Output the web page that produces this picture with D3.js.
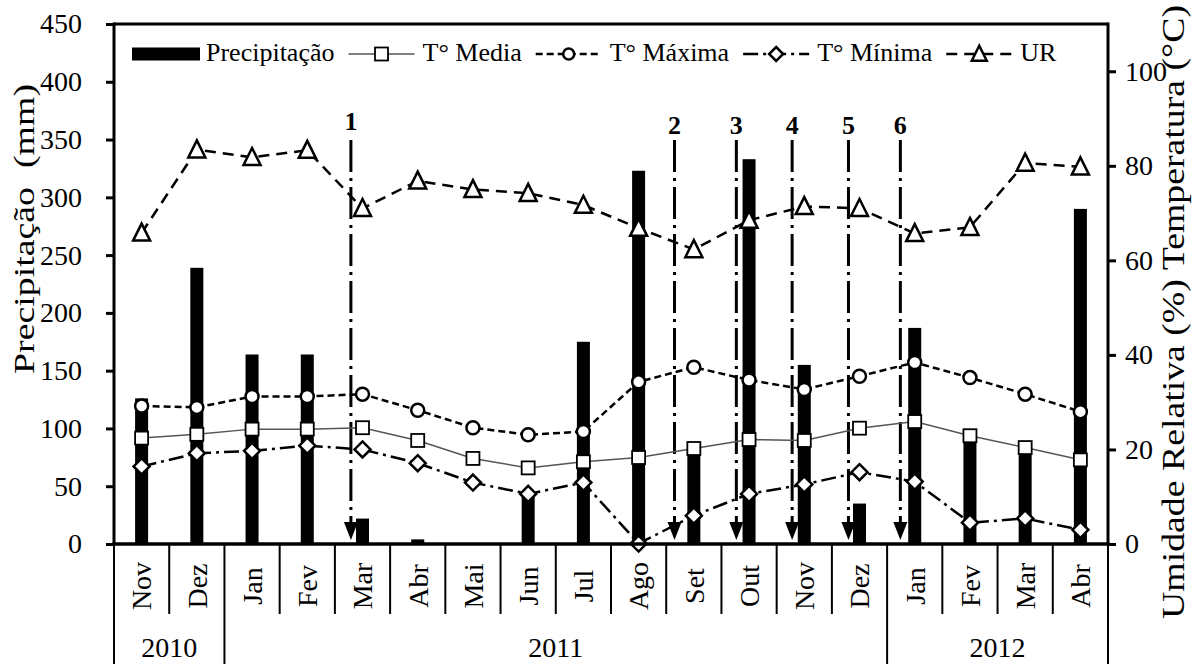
<!DOCTYPE html>
<html><head><meta charset="utf-8">
<script src="https://cdn.jsdelivr.net/npm/d3@7"></script>
<style>
body{margin:0;background:#fff}
svg{display:block}
</style>
</head><body>
<svg id="c" width="1197" height="664"></svg>
<script>
// ---- data ----
const months = ["Nov","Dez","Jan","Fev","Mar","Abr","Mai","Jun","Jul","Ago","Set","Out","Nov","Dez","Jan","Fev","Mar","Abr"];
const years = ["2010","2011","2012"];
const yearSpans = [2,12,4];
const precip = [126,239,164,164,22,4,0,45,175,323,80,333,155,35,187,92,80,290];
const tMedia = [22.4,23.2,24.3,24.3,24.6,21.9,18.1,16.1,17.4,18.3,20.2,22.1,21.9,24.5,25.9,22.9,20.4,17.8];
const tMax   = [29.2,28.9,31.2,31.2,31.7,28.3,24.6,23.1,23.8,34.3,37.4,34.7,32.7,35.5,38.4,35.2,31.7,28.0];
const tMin   = [16.4,19.2,19.7,20.8,20.0,17.1,13.0,10.6,13.0,0.1,6.0,10.6,12.6,15.2,13.2,4.5,5.4,3.0];
const ur     = [65.8,83.4,81.8,83.3,71.0,76.8,75.0,74.2,71.7,66.8,62.3,68.5,71.4,71.0,65.7,67.0,80.6,79.8];
const leftTicks = [0,50,100,150,200,250,300,350,400,450];
const rightTicks = [0,20,40,60,80,100];
const arrowLabels = ["1","2","3","4","5","6"];
const arrowPos = [4.29,10.15,11.27,12.28,13.30,14.24];
const seriesNames = ["Precipitação","T° Media","T° Máxima","T° Mínima","UR"];
const leftTitle = "Precipitação  (mm)";
const rightTitle = "Umidade Relativa (%) Temperatura (°C)";

// ---- layout ----
const FONT = "'Liberation Serif','Times New Roman',serif";
const W=1197,H=664,L=114,R=1108,T=24,B=544;
const svg = d3.select("#c").attr("font-family",FONT);
const idx = d3.range(months.length);
const x = d3.scaleBand().domain(idx).range([L,R]);
const xc = i => x(i)+x.bandwidth()/2;
const xLin = d3.scaleLinear().domain([0,months.length]).range([L,R]);
const yL = d3.scaleLinear().domain([0,450]).range([B,T]);
const yR = d3.scaleLinear().domain([0,110]).range([B,T]);

// bars
svg.append("g").selectAll("rect").data(precip).join("rect")
  .attr("x",(d,i)=>xc(i)-6.5).attr("width",13)
  .attr("y",d=>yL(d)).attr("height",d=>B-yL(d)).attr("fill","#000");

// arrows
const ag = svg.append("g");
arrowPos.forEach((p,k)=>{
  const ax = xLin(p);
  ag.append("line").attr("x1",ax).attr("x2",ax).attr("y1",140).attr("y2",524)
    .attr("stroke","#000").attr("stroke-width",3).attr("stroke-dasharray","32,6,3,6");
  ag.append("path").attr("d",`M${ax-7},522L${ax+7},522L${ax},540Z`).attr("fill","#000");
  ag.append("text").attr("x",ax).attr("y",k===0?130:134).attr("text-anchor","middle")
    .attr("font-size",26).attr("font-weight","bold").text(arrowLabels[k]);
});

// lines
const line = d3.line().x((d,i)=>xc(i)).y(d=>yR(d));
const styles = {
  media:{stroke:"#555",w:1.5,dash:null},
  max:{stroke:"#000",w:2.5,dash:"7,4"},
  min:{stroke:"#000",w:2.5,dash:"15,5,3,5"},
  ur:{stroke:"#000",w:2.5,dash:"11,7"}
};
function drawLine(data,s){
  svg.append("path").datum(data).attr("d",line).attr("fill","none")
    .attr("stroke",s.stroke).attr("stroke-width",s.w).attr("stroke-dasharray",s.dash);
}
drawLine(tMedia,styles.media); drawLine(tMax,styles.max); drawLine(tMin,styles.min); drawLine(ur,styles.ur);

function sq(g,cx,cy,s){g.append("rect").attr("x",cx-s/2).attr("y",cy-s/2).attr("width",s).attr("height",s).attr("fill","#fff").attr("stroke","#000").attr("stroke-width",1.8);}
function ci(g,cx,cy,r){g.append("circle").attr("cx",cx).attr("cy",cy).attr("r",r).attr("fill","#fff").attr("stroke","#000").attr("stroke-width",2.5);}
function di(g,cx,cy,r){g.append("path").attr("d",`M${cx},${cy-r}L${cx+r},${cy}L${cx},${cy+r}L${cx-r},${cy}Z`).attr("fill","#fff").attr("stroke","#000").attr("stroke-width",2.5);}
function tr(g,cx,cy,s){g.append("path").attr("d",`M${cx},${cy-s*0.55}L${cx+s/2},${cy+s*0.45}L${cx-s/2},${cy+s*0.45}Z`).attr("fill","#fff").attr("stroke","#000").attr("stroke-width",2.5);}
const mg = svg.append("g");
tMedia.forEach((d,i)=>sq(mg,xc(i),yR(d),13));
tMax.forEach((d,i)=>ci(mg,xc(i),yR(d),6.5));
tMin.forEach((d,i)=>di(mg,xc(i),yR(d),8));
ur.forEach((d,i)=>tr(mg,xc(i),yR(d),17));

// frame & axes
const ax = svg.append("g");
const lAxis = d3.axisLeft(yL).tickValues(leftTicks).tickSize(8).tickSizeOuter(0).tickPadding(24);
const rAxis = d3.axisRight(yR).tickValues(rightTicks).tickSize(8).tickSizeOuter(0).tickPadding(9);
const gl = ax.append("g").attr("transform",`translate(${L},0)`).call(lAxis);
const gr = ax.append("g").attr("transform",`translate(${R},0)`).call(rAxis);
[gl,gr].forEach(g=>{
  g.attr("font-family",FONT).attr("font-size",28);
  g.select(".domain").remove();
  g.selectAll(".tick line").attr("stroke","#000").attr("stroke-width",3);
  g.selectAll(".tick text").attr("fill","#000");
});
ax.append("line").attr("x1",L).attr("x2",R).attr("y1",T).attr("y2",T).attr("stroke","#000").attr("stroke-width",3);
ax.append("line").attr("x1",L-1.5).attr("x2",R+1.5).attr("y1",B).attr("y2",B).attr("stroke","#000").attr("stroke-width",3.5);
ax.append("line").attr("x1",L).attr("x2",L).attr("y1",T-1.5).attr("y2",B).attr("stroke","#000").attr("stroke-width",3);
ax.append("line").attr("x1",R).attr("x2",R).attr("y1",T-1.5).attr("y2",B).attr("stroke","#000").attr("stroke-width",3);

// category separators
const yearBounds = [0]; yearSpans.forEach(s=>yearBounds.push(yearBounds[yearBounds.length-1]+s));
d3.range(months.length+1).forEach(i=>{
  const isYear = yearBounds.includes(i);
  ax.append("line").attr("x1",xLin(i)).attr("x2",xLin(i)).attr("y1",B).attr("y2",isYear?H:614)
    .attr("stroke","#000").attr("stroke-width",2);
});
months.forEach((m,i)=>{
  svg.append("text").attr("transform",`translate(${xc(i)},586) rotate(-90)`)
    .attr("text-anchor","middle").attr("dy","0.35em").attr("font-size",28).text(m);
});
years.forEach((y,k)=>{
  svg.append("text").attr("x",(xLin(yearBounds[k])+xLin(yearBounds[k+1]))/2).attr("y",657)
    .attr("text-anchor","middle").attr("font-size",28).text(y);
});

// titles
svg.append("text").attr("transform","translate(34,229) rotate(-90)").attr("text-anchor","middle")
  .attr("font-size",30).style("white-space","pre").attr("textLength",290).attr("lengthAdjust","spacingAndGlyphs").text(leftTitle);
svg.append("text").attr("transform","translate(1184,312) rotate(-90)").attr("text-anchor","middle")
  .attr("font-size",31).attr("textLength",614).attr("lengthAdjust","spacingAndGlyphs").text(rightTitle);

// legend
const lg = svg.append("g");
let lx = 132; const ly = 54;
seriesNames.forEach((name,k)=>{
  const sw = 66;
  if(k===0){
    lg.append("rect").attr("x",lx).attr("y",ly-6.5).attr("width",sw+2).attr("height",13).attr("fill","#000");
  } else {
    const s = [styles.media,styles.max,styles.min,styles.ur][k-1];
    lg.append("line").attr("x1",lx).attr("x2",lx+sw).attr("y1",ly).attr("y2",ly)
      .attr("stroke",s.stroke).attr("stroke-width",s.w).attr("stroke-dasharray",s.dash);
    const cx = lx+sw/2;
    if(k===1) sq(lg,cx,ly,13);
    if(k===2) ci(lg,cx,ly,5.5);
    if(k===3) di(lg,cx,ly,7);
    if(k===4) tr(lg,cx,ly,15);
  }
  const t = lg.append("text").attr("x",lx+sw+8).attr("y",ly+7).attr("font-size",26)
    .style("font-family",FONT).text(name);
  lx = lx+sw+8+t.node().getComputedTextLength()+14;
});

svg.selectAll("text").style("font-family",FONT).attr("fill","#000");
</script>
</body></html>
